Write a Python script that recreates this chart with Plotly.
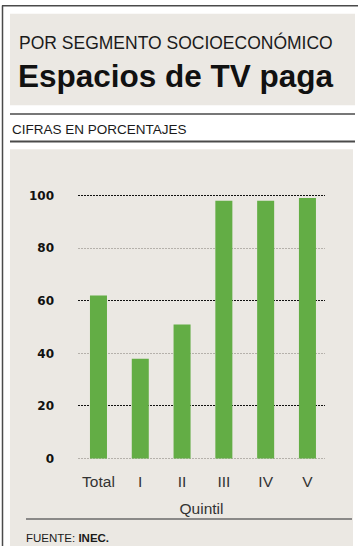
import plotly.graph_objects as go

# ---- data ----
categories = ["Total", "I", "II", "III", "IV", "V"]
values = [62, 38, 51, 98, 98, 99]
y_tickvals = [0, 20, 40, 60, 80, 100]
y_ticktext = ["0", "20", "40", "60", "80", "100"]
dark_grid_vals = [20, 60, 100]

W, H = 358, 555
BEIGE = "#ebe8e3"
GREEN = "#63ad45"
LINE = "#4a4a4a"


def px(x):
    return x / W


def py(y):
    return 1 - y / H


fig = go.Figure()
fig.add_trace(go.Bar(
    x=categories, y=values, marker=dict(color=GREEN, line=dict(width=0)),
    yaxis="y", hoverinfo="x+y",
))

y_range = [-0.5, 101]
y0_px, y1_px = 464.3, 192.3

fig.update_layout(
    width=W, height=H,
    margin=dict(l=0, r=0, t=0, b=0),
    paper_bgcolor="white",
    plot_bgcolor="rgba(0,0,0,0)",
    showlegend=False,
    bargap=0.593,
    xaxis=dict(
        domain=[px(78), px(325)],
        range=[-0.49, 5.42],
        type="category",
        showgrid=False, zeroline=False, showline=False, ticks="",
        tickfont=dict(family="Liberation Sans", size=15.5, color="#333333"),
        ticklabelstandoff=11,
        title=dict(text="Quintil", standoff=13,
                   font=dict(family="Liberation Sans", size=15.5, color="#333333")),
    ),
    yaxis=dict(
        domain=[py(y0_px), py(y1_px)],
        range=y_range,
        tickvals=y_tickvals, ticktext=y_ticktext,
        showgrid=True, gridcolor="#b5b1ab", griddash="1.5px,1.5px", gridwidth=1,
        zeroline=False, showline=False, ticks="",
        tickfont=dict(family="DejaVu Sans", size=12, color="#111111", weight="bold"),
        ticklabelstandoff=23,
    ),
    yaxis2=dict(
        domain=[py(y0_px), py(y1_px)],
        range=y_range, overlaying="y",
        tickvals=dark_grid_vals, showticklabels=False,
        showgrid=True, gridcolor="#111111", griddash="1.5px,1.5px", gridwidth=1,
        zeroline=False, showline=False, ticks="",
    ),
)

# invisible trace to activate yaxis2 (dark gridlines)
fig.add_trace(go.Scatter(x=[categories[0]], y=[0], yaxis="y2", mode="markers",
                         marker=dict(opacity=0), hoverinfo="skip"))

shapes = [
    # header panel
    dict(type="rect", xref="paper", yref="paper", x0=px(10), x1=px(355), y0=py(103), y1=py(10),
         fillcolor=BEIGE, line=dict(width=0), layer="below"),
    # chart panel
    dict(type="rect", xref="paper", yref="paper", x0=px(10), x1=px(353), y0=py(552), y1=py(148),
         fillcolor=BEIGE, line=dict(width=0), layer="below"),
    # borders
    dict(type="line", xref="paper", yref="paper", x0=px(2.5), x1=px(2.5), y0=py(552), y1=py(1.5),
         line=dict(color=LINE, width=1.5)),
    dict(type="line", xref="paper", yref="paper", x0=px(2), x1=px(358), y0=py(1.8), y1=py(1.8),
         line=dict(color=LINE, width=1.5)),
    # separators
    dict(type="line", xref="paper", yref="paper", x0=px(10), x1=px(355), y0=py(112), y1=py(112),
         line=dict(color=LINE, width=1.5)),
    dict(type="line", xref="paper", yref="paper", x0=px(10), x1=px(355), y0=py(140), y1=py(140),
         line=dict(color=LINE, width=2)),
    dict(type="line", xref="paper", yref="paper", x0=px(26), x1=px(352), y0=py(524.5), y1=py(524.5),
         line=dict(color="#6a6a6a", width=1.5)),
]
fig.update_layout(shapes=shapes)

annotations = [
    dict(text="POR SEGMENTO SOCIOECONÓMICO", x=px(17), y=py(39), xanchor="left", yanchor="middle",
         font=dict(family="Liberation Sans", size=17.5, color="#1a1a1a")),
    dict(text="<b>Espacios de TV paga</b>", x=px(16), y=py(73), xanchor="left", yanchor="middle",
         font=dict(family="Liberation Sans", size=31.5, color="#111111")),
    dict(text="CIFRAS EN PORCENTAJES", x=px(10), y=py(127.5), xanchor="left", yanchor="middle",
         font=dict(family="Liberation Sans", size=13.5, color="#1a1a1a")),
    dict(text="FUENTE: <b>INEC.</b>", x=px(24), y=py(543.5), xanchor="left", yanchor="middle",
         font=dict(family="Liberation Sans", size=11.5, color="#1a1a1a")),
]
for a in annotations:
    a.update(xref="paper", yref="paper", showarrow=False)
fig.update_layout(annotations=annotations)

fig.write_html(
    "out.html",
    config={"displayModeBar": False},
    post_script="document.body.style.margin='0';document.body.style.padding='0';"
                "document.body.style.overflow='hidden';",
)
